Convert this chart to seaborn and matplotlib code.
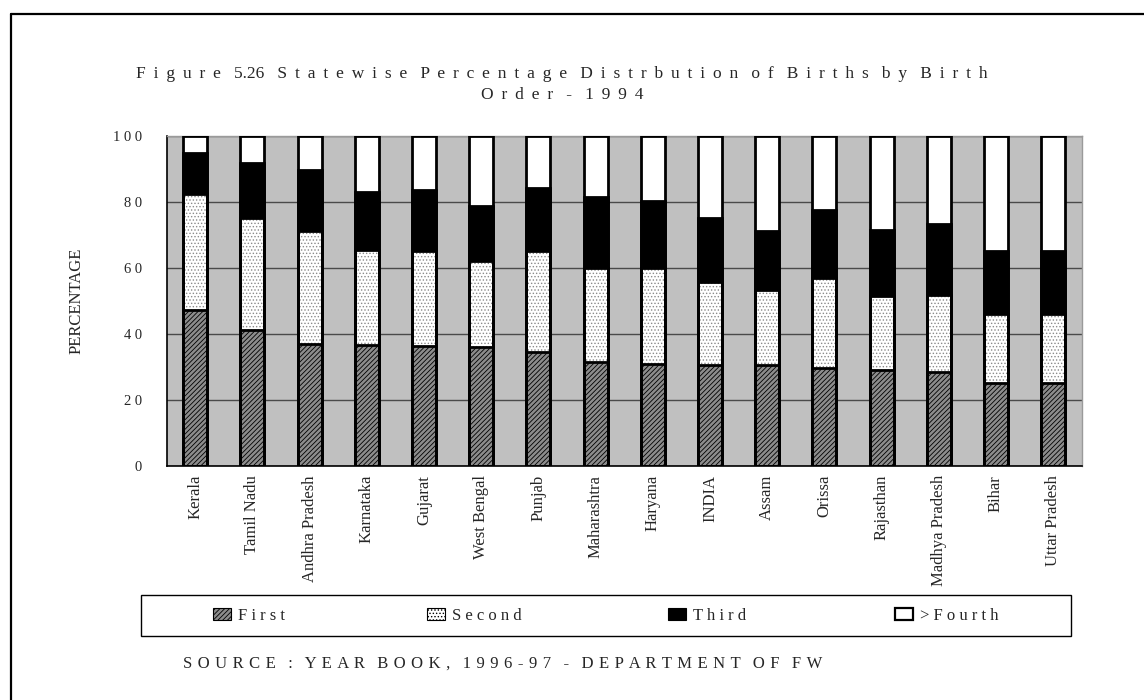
import matplotlib
matplotlib.use("Agg")
import matplotlib.pyplot as plt
import matplotlib.patches as mpatches
from matplotlib.lines import Line2D
import numpy as np
import seaborn as sns

# Birth-order shares (%) by state, 1994
states = ["Kerala", "Tamil Nadu", "Andhra Pradesh", "Karnataka", "Gujarat",
          "West Bengal", "Punjab", "Maharashtra", "Haryana", "INDIA", "Assam",
          "Orissa", "Rajasthan", "Madhya Pradesh", "Bihar", "Uttar Pradesh"]
first = [47.3, 41.3, 36.9, 36.7, 36.4, 36.0, 34.4, 31.5, 31.0, 30.7, 30.7,
         29.8, 29.1, 28.6, 25.3, 25.1]
second = [35.0, 33.9, 34.2, 28.9, 28.6, 26.0, 30.9, 28.5, 29.0, 25.2, 22.7,
          27.2, 22.5, 23.3, 20.7, 21.0]
third = [12.4, 16.7, 18.5, 17.5, 18.6, 16.9, 19.0, 21.5, 20.2, 19.1, 17.9,
         20.5, 20.0, 21.5, 19.3, 19.1]
fourth = [5.3, 8.1, 10.4, 16.9, 16.4, 21.1, 15.7, 18.5, 19.8, 25.0, 28.7,
          22.5, 28.4, 26.6, 34.7, 34.8]
series_names = ["First", "Second", "Third", ">Fourth"]
y_ticks = [0, 20, 40, 60, 80, 100]

title_lines = ["Figure 5.26 Statewise Percentage Distrbution of Births by Birth",
               "Order - 1994"]
source_text = "SOURCE : YEAR BOOK, 1996-97 - DEPARTMENT OF FW"

sns.set_style("white")
plt.rcParams["font.family"] = ["Liberation Serif", "DejaVu Serif"]
plt.rcParams["hatch.linewidth"] = 0.6


def spread(text, gap=" ", word_gap="   ", tight=()):
    """Letter-spaced version of a string."""
    words = []
    for w in text.split(" "):
        words.append(w if w in tight else gap.join(w))
    return word_gap.join(words)


W, H = 1144, 700
fig = plt.figure(figsize=(W / 100, H / 100), dpi=100)
fig.patch.set_facecolor("white")

x0, x1, y_top, y_bot = 166.7, 1081.7, 136.0, 466.0
ax = fig.add_axes([x0 / W, 1 - y_bot / H, (x1 - x0) / W, (y_bot - y_top) / H])
ax.set_facecolor("#c0c0c0")

# stacked layers as cumulative heights
c1 = np.array(first)
c2 = c1 + np.array(second)
c3 = c2 + np.array(third)
c4 = c3 + np.array(fourth)

bar_w = 0.42
first_hatch = "///////"
second_hatch = "....."
first_face = "#8c8c8c"
layers = [
    (c4, "white", None, "white"),
    (c3, "black", None, "black"),
    (c2, "white", second_hatch, "#8a8a8a"),
    (c1, first_face, first_hatch, "black"),
]
for vals, face, hatch, hcol in layers:
    sns.barplot(x=states, y=vals, color=face, saturation=1, width=bar_w,
                hatch=hatch, edgecolor=hcol, linewidth=0, errorbar=None,
                ax=ax, zorder=2)
for vals in (c4, c3, c2, c1):
    sns.barplot(x=states, y=vals, color="black", fill=False, width=bar_w,
                linewidth=2.0, errorbar=None, ax=ax, zorder=3)

ax.set_xlim(-0.5, len(states) - 0.5)
ax.set_ylim(0, 100)
ax.set_yticks(y_ticks)
ax.set_yticklabels([spread(str(v)) for v in y_ticks], fontsize=10.5)
ax.set_xticks(range(len(states)))
ax.set_xticklabels(states, rotation=90, fontsize=12, ha="center", va="top")
ax.set_xticks(np.arange(-0.5, len(states), 1.0), minor=True)
ax.tick_params(axis="x", which="major", length=0, pad=6.5)
ax.tick_params(axis="x", which="minor", length=5, width=1, color="black",
               direction="out")
ax.tick_params(axis="y", length=6, width=1, color="black", direction="out",
               pad=12)
ax.set_xlabel("")
ax.set_ylabel("")
ax.set_axisbelow(True)
ax.yaxis.grid(True, color="#4a4a4a", linewidth=1.0)
ax.xaxis.grid(False)
for side in ("left", "bottom"):
    ax.spines[side].set_color("black")
    ax.spines[side].set_linewidth(1.2)
for side in ("top", "right"):
    ax.spines[side].set_color("#9a9a9a")
    ax.spines[side].set_linewidth(1.0)
    ax.spines[side].set_visible(True)

fig.text(77 / W, 1 - 301 / H, "PERCENTAGE", rotation=90, ha="center",
         va="center", fontsize=12)

# title and source line
fig.text(562 / W, 1 - 74 / H,
         spread(title_lines[0], gap=" \u2009", tight=("5.26",)),
         ha="center", va="center", fontsize=12.5)
fig.text(562 / W, 1 - 95 / H, spread(title_lines[1], gap=" \u2009"),
         ha="center", va="center", fontsize=12.5)
fig.text(183 / W, 1 - 664 / H, spread(source_text, gap=" \u200a"),
         ha="left", va="center", fontsize=12)

# outer frame (top and left edges)
fig.add_artist(Line2D([11 / W, 1], [1 - 14 / H, 1 - 14 / H],
                      transform=fig.transFigure, color="black", lw=1.6))
fig.add_artist(Line2D([11 / W, 11 / W], [0, 1 - 14 / H],
                      transform=fig.transFigure, color="black", lw=1.6))

# legend box with four entries
lx0, lx1, ly0, ly1 = 140.7, 1071.0, 595.0, 636.0
fig.add_artist(mpatches.Rectangle((lx0 / W, 1 - ly1 / H), (lx1 - lx0) / W,
                                  (ly1 - ly0) / H, transform=fig.transFigure,
                                  fill=False, edgecolor="black", lw=1.0))
handles = [
    mpatches.Patch(facecolor=first_face, hatch=first_hatch, edgecolor="black", lw=0.8),
    mpatches.Patch(facecolor="white", hatch=second_hatch, edgecolor="black", lw=0.8),
    mpatches.Patch(facecolor="black", edgecolor="black", lw=0.8),
    mpatches.Patch(facecolor="white", edgecolor="black", lw=1.6),
]
entry_x = [213, 427, 668, 895]
for hnd, name, ex in zip(handles, series_names, entry_x):
    fig.legend([hnd], [spread(name)], loc="center left",
               bbox_to_anchor=(ex / W, 1 - 615.7 / H), frameon=False,
               handlelength=1.1, handleheight=0.8, handletextpad=0.4,
               borderpad=0, borderaxespad=0, fontsize=12)

fig.savefig("out.png", dpi=100, facecolor="white")
